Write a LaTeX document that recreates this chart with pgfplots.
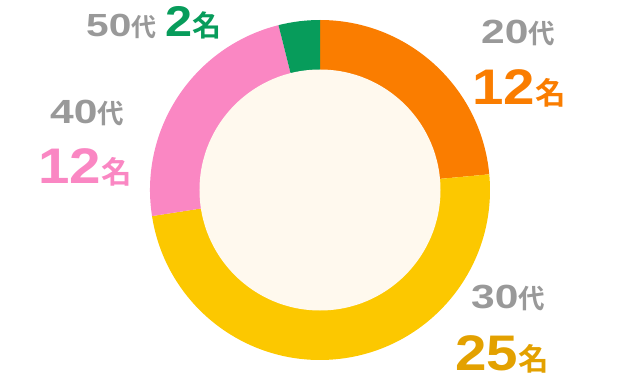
\documentclass[border=0pt]{standalone}
\usepackage{pgfplots}
\pgfplotsset{compat=1.18}
\usepackage{pgfplotstable}
\usepackage{fontspec}
\newfontfamily\jp{Noto Sans CJK JP}[UprightFont=* Bold]
\newfontfamily\dgw{Liberation Sans}[UprightFont=* Bold,FakeStretch=1.27]
\newfontfamily\dgn{Liberation Sans}[UprightFont=* Bold,FakeStretch=1.13]
\definecolor{cA}{HTML}{FA7D00}
\definecolor{cB}{HTML}{FCC800}
\definecolor{cC}{HTML}{FA87C3}
\definecolor{cD}{HTML}{079C5B}
\definecolor{cream}{HTML}{FFF9EE}
\definecolor{grayt}{HTML}{999999}
\definecolor{cBt}{HTML}{E3A100}
\pgfplotstableread{
age value
20 12
30 25
40 12
50 2
}\agedata
\newcommand\seg[3]{%
  \fill[#3] ([shift={(#1:170bp)}]axis cs:320,190) arc[start angle=#1,end angle=#2,radius=170bp]
    -- ([shift={(#2:120bp)}]axis cs:320,190) arc[start angle=#2,end angle=#1,radius=120bp] -- cycle;}
\newcommand\lab[4]{\node[anchor=base west,inner sep=0,text=#3] at (axis cs:#1,#2) {#4};}
\newcommand\fsz[1]{\fontsize{#1}{#1}\selectfont}
\newcommand\age[1]{\dgw\fsz{33.5bp}#1\jp\fsz{26.5bp}代}
\newcommand\num[1]{\dgn\fsz{50bp}#1\jp\fsz{30.5bp}名}
\begin{document}
\begin{tikzpicture}
\pgfplotstablegetelem{0}{value}\of\agedata \let\va\pgfplotsretval
\pgfplotstablegetelem{1}{value}\of\agedata \let\vb\pgfplotsretval
\pgfplotstablegetelem{2}{value}\of\agedata \let\vc\pgfplotsretval
\pgfplotstablegetelem{3}{value}\of\agedata \let\vd\pgfplotsretval
\pgfmathsetmacro\tot{\va+\vb+\vc+\vd}
\pgfmathsetmacro\aA{90}
\pgfmathsetmacro\aB{90-\va/\tot*360}
\pgfmathsetmacro\aC{90-(\va+\vb)/\tot*360}
\pgfmathsetmacro\aD{90-(\va+\vb+\vc)/\tot*360}
\pgfmathsetmacro\aE{90-(\va+\vb+\vc+\vd)/\tot*360}
\begin{axis}[width=640bp,height=380bp,scale only axis,xmin=0,xmax=640,ymin=0,ymax=380,hide axis,clip=false,anchor=south west,at={(0,0)}]
\seg{\aA}{\aB}{cA}
\seg{\aB}{\aC}{cB}
\seg{\aC}{\aD}{cC}
\seg{\aD}{\aE}{cD}
\fill[cream] (axis cs:320,190) circle[radius=120.5bp];
\lab{481}{337}{grayt}{\age{20}}
\lab{472}{276}{cA}{\num{12}}
\lab{471}{72}{grayt}{\age{30}}
\lab{455}{10}{cBt}{\num{25}}
\lab{50}{257}{grayt}{\age{40}}
\lab{38}{197}{cC}{\num{12}}
\lab{86}{344}{grayt}{\dgw\fsz{32bp}50\jp\fsz{25bp}代}
\lab{165}{344}{cD}{\dgn\fsz{43bp}2\jp\fsz{29bp}名}
\end{axis}
\pgfresetboundingbox
\useasboundingbox (0,0) rectangle (640bp,380bp);
\end{tikzpicture}
\end{document}
